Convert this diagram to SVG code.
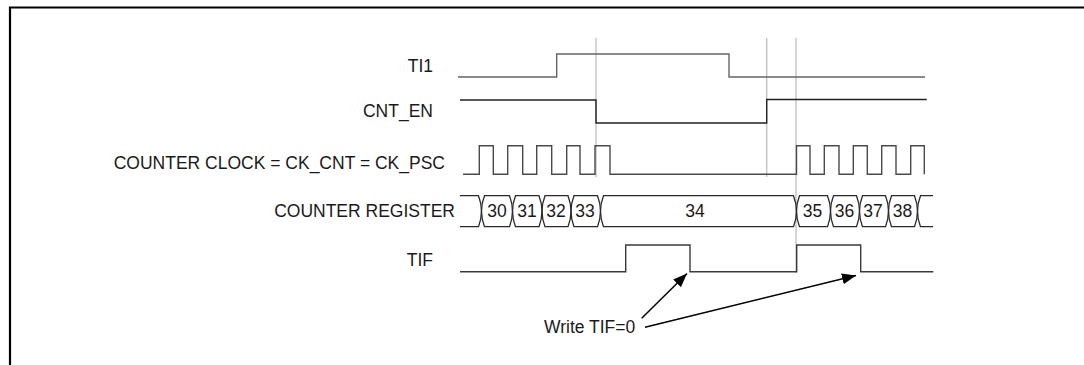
<svg xmlns="http://www.w3.org/2000/svg" width="1084" height="365" viewBox="0 0 1084 365">
<defs>
<style>
.lbl{font-family:"Liberation Sans",Arial,sans-serif;font-size:17.5px;fill:#1a1a1a}
.end{text-anchor:end}
.mid{text-anchor:middle}
.sig{fill:none;stroke-width:1.4;stroke-linejoin:miter}
.guide{stroke:#bdbdbd;stroke-width:1.3;fill:none}
.bus{fill:none;stroke:#2a2a2a;stroke-width:1.3}
.arr{stroke:#000;stroke-width:1.5;fill:none;marker-end:url(#ah)}
</style>
<marker id="ah" markerUnits="userSpaceOnUse" markerWidth="16" markerHeight="12" refX="14" refY="5.5" orient="auto">
<path d="M0,0 L14,5.5 L0,11 Z" fill="#000"/>
</marker>
</defs>
<rect x="0" y="0" width="1084" height="365" fill="#fff"/>
<g id="frame">
<path d="M10,365 V7.5 H1084" fill="none" stroke="#000" stroke-width="2.2"/>
</g>
<g id="guides">
<line class="guide" x1="596" y1="38" x2="596" y2="177"/>
<line class="guide" x1="766.7" y1="38" x2="766.7" y2="177"/>
<line class="guide" x1="796" y1="38" x2="796" y2="273"/>
</g>
<g id="TI1">
<text class="lbl end" x="433" y="71.5">TI1</text>
<path class="sig" stroke="#666" d="M458,77 H556.7 V54 H729 V77 H925"/>
</g>
<g id="CNT_EN">
<text class="lbl end" x="433" y="116.5">CNT_EN</text>
<path class="sig" stroke="#222" d="M460,100 H596 V123 H766.7 V99.5 H926.7"/>
</g>
<g id="CLOCK">
<text class="lbl end" x="445" y="169.3">COUNTER CLOCK = CK_CNT = CK_PSC</text>
<path class="sig" stroke="#4a4a4a" d="M463,174.3 H479.3 V145.7 H493.3 V174.3 H507.7 V145.7 H522.7 V174.3 H536.7 V145.7 H551.7 V174.3 H566.7 V145.7 H580 V174.3 H595 V145.7 H610 V174.3 H796.5 V145.7 H810 V174.3 H824.3 V145.7 H839 V174.3 H853.3 V145.7 H867.3 V174.3 H881.7 V145.7 H896 V174.3 H910.7 V145.7 H924.3 V174.3"/>
</g>
<g id="REGISTER">
<text class="lbl end" x="455" y="217.3">COUNTER REGISTER</text>
<path class="bus" d="M460,195.7 H478.5 Q484.5,211.2 478.5,226.7 H460"/>
<path class="bus" d="M484.5,195.7 H509.5 Q515.5,211.2 509.5,226.7 H484.5 Q478.5,211.2 484.5,195.7 Z"/>
<path class="bus" d="M515.5,195.7 H539 Q545,211.2 539,226.7 H515.5 Q509.5,211.2 515.5,195.7 Z"/>
<path class="bus" d="M545,195.7 H568 Q574,211.2 568,226.7 H545 Q539,211.2 545,195.7 Z"/>
<path class="bus" d="M574,195.7 H597.5 Q603.5,211.2 597.5,226.7 H574 Q568,211.2 574,195.7 Z"/>
<path class="bus" d="M603.5,195.7 H793.5 Q799.5,211.2 793.5,226.7 H603.5 Q597.5,211.2 603.5,195.7 Z"/>
<path class="bus" d="M799.5,195.7 H827.5 Q833.5,211.2 827.5,226.7 H799.5 Q793.5,211.2 799.5,195.7 Z"/>
<path class="bus" d="M833.5,195.7 H856.5 Q862.5,211.2 856.5,226.7 H833.5 Q827.5,211.2 833.5,195.7 Z"/>
<path class="bus" d="M862.5,195.7 H885.5 Q891.5,211.2 885.5,226.7 H862.5 Q856.5,211.2 862.5,195.7 Z"/>
<path class="bus" d="M891.5,195.7 H914.5 Q920.5,211.2 914.5,226.7 H891.5 Q885.5,211.2 891.5,195.7 Z"/>
<path class="bus" d="M933,195.7 H920.5 Q914.5,211.2 920.5,226.7 H933"/>
<text class="lbl mid" x="497" y="217.3">30</text>
<text class="lbl mid" x="527" y="217.3">31</text>
<text class="lbl mid" x="556" y="217.3">32</text>
<text class="lbl mid" x="585" y="217.3">33</text>
<text class="lbl mid" x="695" y="217.3">34</text>
<text class="lbl mid" x="812.5" y="217.3">35</text>
<text class="lbl mid" x="844.5" y="217.3">36</text>
<text class="lbl mid" x="873" y="217.3">37</text>
<text class="lbl mid" x="902.5" y="217.3">38</text>
</g>
<g id="TIF">
<text class="lbl end" x="433" y="265.5">TIF</text>
<path class="sig" stroke="#3a3a3a" d="M460,271.7 H625.7 V245 H690 V271.7 H796.7 V245 H860.7 V271.7 H933.3"/>
</g>
<g id="note">
<text class="lbl" x="544" y="333.3">Write TIF=0</text>
</g>
<g id="connectors">
<line class="arr" x1="641.7" y1="318.3" x2="687" y2="273.5"/>
<line class="arr" x1="645" y1="327.3" x2="856" y2="275.5"/>
</g>
</svg>
